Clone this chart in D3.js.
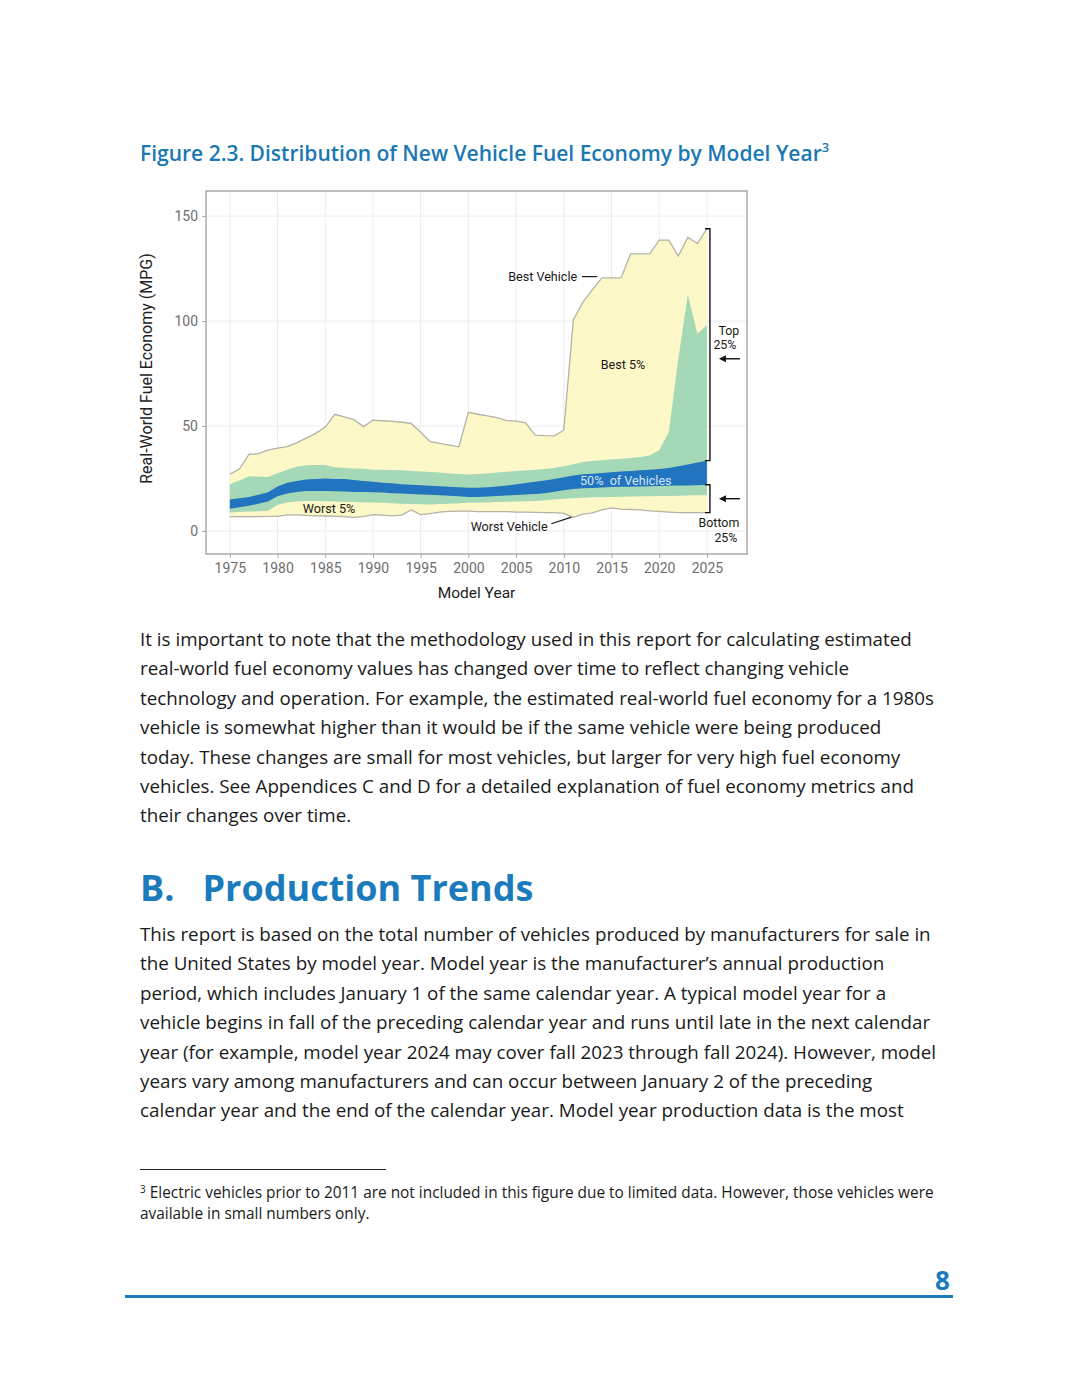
<!DOCTYPE html>
<html>
<head>
<meta charset="utf-8">
<script src="https://cdn.jsdelivr.net/npm/d3@7"></script>
<style>
  body { margin: 0; background: #fff; }
  #page { position: relative; width: 1080px; height: 1387px; font-family: "Open Sans", sans-serif; color: #1a1a1a; }
  .title { position: absolute; left: 140px; top: 138px; font-size: 21px; font-weight: 600; color: #1a78b4; white-space: nowrap; }
  .title sup { font-size: 13px; vertical-align: 9px; }
  .para { position: absolute; left: 140px; font-size: 18.8px; line-height: 29.4px; white-space: nowrap; }
  .heading { position: absolute; left: 140px; top: 863px; font-size: 36px; font-weight: 700; color: #1b7bbc; white-space: nowrap; }
  .fnrule { position: absolute; left: 140px; top: 1169px; width: 246px; height: 1px; background: #222; }
  .footnote { position: absolute; left: 140px; top: 1179px; font-size: 15.4px; line-height: 21px; white-space: nowrap; }
  .footnote sup { font-size: 10px; vertical-align: 5px; }
  .pagenum { position: absolute; left: 935px; top: 1262px; font-size: 26px; font-weight: 700; color: #1b7bbc; }
  .botrule { position: absolute; left: 125px; top: 1295px; width: 828px; height: 3px; background: #1b7bbc; }
  #chart { position: absolute; left: 0; top: 0; }
</style>
</head>
<body>
<div id="page">
  <div class="title">Figure 2.3. Distribution of New Vehicle Fuel Economy by Model Year<sup>3</sup></div>
  <svg id="chart" width="1080" height="620"></svg>
  <div class="para" style="top:625px">It is important to note that the methodology used in this report for calculating estimated<br>real-world fuel economy values has changed over time to reflect changing vehicle<br>technology and operation. For example, the estimated real-world fuel economy for a 1980s<br>vehicle is somewhat higher than it would be if the same vehicle were being produced<br>today. These changes are small for most vehicles, but larger for very high fuel economy<br>vehicles. See Appendices C and D for a detailed explanation of fuel economy metrics and<br>their changes over time.</div>
  <div class="heading">B.&nbsp;&nbsp; Production Trends</div>
  <div class="para" style="top:920px">This report is based on the total number of vehicles produced by manufacturers for sale in<br>the United States by model year. Model year is the manufacturer’s annual production<br>period, which includes January 1 of the same calendar year. A typical model year for a<br>vehicle begins in fall of the preceding calendar year and runs until late in the next calendar<br>year (for example, model year 2024 may cover fall 2023 through fall 2024). However, model<br>years vary among manufacturers and can occur between January 2 of the preceding<br>calendar year and the end of the calendar year. Model year production data is the most</div>
  <div class="fnrule"></div>
  <div class="footnote"><sup>3</sup> Electric vehicles prior to 2011 are not included in this figure due to limited data. However, those vehicles were<br>available in small numbers only.</div>
  <div class="pagenum">8</div>
  <div class="botrule"></div>
</div>
<script>
// Model years and fuel economy distribution (MPG)
const years = [1975,1976,1977,1978,1979,1980,1981,1982,1983,1984,
  1985,1986,1987,1988,1989,1990,1991,1992,1993,1994,
  1995,1996,1997,1998,1999,2000,2001,2002,2003,2004,
  2005,2006,2007,2008,2009,2010,2011,2012,2013,2014,
  2015,2016,2017,2018,2019,2020,2021,2022,2023,2024,2025];

const bestVehicle = [27,29.5,36.5,36.8,38.5,39.5,40.2,42,44.2,46.5,
  49.5,55.6,54.3,53,49.7,52.8,52.5,52.2,51.8,51.2,
  47,42.5,41.7,40.9,40.1,56.5,55.6,54.8,54,52.6,
  52.3,51.5,45.7,45.4,45.3,48,100.5,109,115,120.6,
  120.6,120.6,132,132,132,138.6,138.6,131,140,137,144];

const best5 = [22.2,24,26,25.9,25.7,27.5,29.2,30.6,31.3,31.4,
  31.4,30.4,30,29.8,29.6,29.2,29.1,29,28.9,28.6,
  28.3,28.1,27.8,27.4,27.1,26.9,27.1,27.4,27.8,28.2,
  28.5,28.8,29.2,29.5,30,30.8,31.8,32.8,33.3,33.7,
  34,34.4,34.8,35.2,36,38.5,47,82,112.5,94,98];

const top25 = [15,15.6,16.2,17.2,18.4,21.2,23,23.8,24.5,24.8,
  25,24.8,24.7,24.3,23.8,23.4,23,22.7,22.3,22,
  21.8,21.5,21.3,21,20.8,20.6,20.6,20.8,21.2,21.6,
  22.2,22.8,23.4,24,24.8,25.6,26.4,27,27.3,27.6,
  28,28.3,28.6,28.9,29.2,29.5,30,30.8,31.6,32.6,33.5];

const bottom25 = [10.6,11.3,12,13,14,16.5,17.8,18.5,19,19,
  19,18.9,18.8,18.6,18.5,18.4,18.3,18,17.8,17.6,
  17.4,17.2,17,16.8,16.5,16.2,16.2,16.4,16.6,16.9,
  17.1,17.3,17.6,18,18.7,19.4,20,20.3,20.5,20.7,
  20.9,21,21.1,21.2,21.3,21.4,21.5,21.6,21.7,21.8,22];

const worst5 = [8.8,9,9.2,9.4,9.6,12.5,13.5,14,14.2,14.2,
  14.1,14,13.9,13.8,13.6,13.5,13.4,13.2,13,12.8,
  12.7,12.6,12.8,12.9,13.2,13.4,13.5,13.6,13.8,13.9,
  14,14.1,14.3,14.6,15,15.3,15.6,15.8,16,16.1,
  16.2,16.3,16.4,16.5,16.5,16.6,16.7,16.8,16.9,17,17];

const worstVehicle = [6.8,6.8,6.8,6.8,6.9,6.9,7.6,7.6,7.4,7.2,
  7.1,7,6.8,6.5,6.8,7.8,7.5,7.2,7.5,10,
  7.8,8.2,9,9.3,9.4,9.4,9.2,9.2,9.2,9.2,
  9,9,8.8,8.7,8.7,8.4,6.5,8,8.6,10,
  11,10.4,10.2,10,9.6,9.3,9,8.7,8.7,8.7,8.7];

const xTicks = [1975,1980,1985,1990,1995,2000,2005,2010,2015,2020,2025];
const yTicks = [0,50,100,150];

const data = years.map((yr, i) => ({
  year: yr,
  max: bestVehicle[i], p95: best5[i], p75: top25[i],
  p25: bottom25[i], p5: worst5[i], min: worstVehicle[i],
}));

const margin = { top: 191, left: 206 };
const width = 541;
const height = 363;

const svg = d3.select("#chart");
const g = svg.append("g").attr("transform", `translate(${margin.left},${margin.top})`);

const x = d3.scaleLinear().domain([1972.5, 2029.2]).range([0, width]);
const y = d3.scaleLinear().domain([-11, 162]).range([height, 0]);

// Gridlines
g.selectAll(".vgrid").data(xTicks).enter().append("line")
  .attr("x1", d => x(d)).attr("x2", d => x(d))
  .attr("y1", 0).attr("y2", height)
  .attr("stroke", "#ececec").attr("stroke-width", 1);
g.selectAll(".hgrid").data(yTicks).enter().append("line")
  .attr("x1", 0).attr("x2", width)
  .attr("y1", d => y(d)).attr("y2", d => y(d))
  .attr("stroke", "#ececec").attr("stroke-width", 1);

// Bands
const band = (lo, hi) => d3.area()
  .x(d => x(d.year)).y0(d => y(d[lo])).y1(d => y(d[hi]));

g.append("path").datum(data).attr("fill", "#fcf8c7").attr("d", band("min", "max"));
g.append("path").datum(data).attr("fill", "#a5d8b6").attr("d", band("p5", "p95"));
g.append("path").datum(data).attr("fill", "#2274bf").attr("d", band("p25", "p75"));

const edge = key => d3.line().x(d => x(d.year)).y(d => y(d[key]));
["max", "min"].forEach(k => {
  g.append("path").datum(data)
    .attr("fill", "none").attr("stroke", "#b4b3a6").attr("stroke-width", 1.3)
    .attr("d", edge(k));
});

// Frame
g.append("rect").attr("width", width).attr("height", height)
  .attr("fill", "none").attr("stroke", "#a9a9a9").attr("stroke-width", 1.5);

// Axes
const xAxis = g.append("g").attr("transform", `translate(0,${height})`)
  .call(d3.axisBottom(x).tickValues(xTicks).tickFormat(d3.format("d")).tickSize(4).tickPadding(5));
const yAxis = g.append("g")
  .call(d3.axisLeft(y).tickValues(yTicks).tickSize(4).tickPadding(4));
[xAxis, yAxis].forEach(a => {
  a.select(".domain").remove();
  a.selectAll("line").attr("stroke", "#a9a9a9");
  a.selectAll("text").attr("fill", "#6e6e6e").style("font-family", "Roboto, sans-serif").style("font-size", "14px");
});

g.append("text").attr("x", width / 2).attr("y", height + 44)
  .attr("text-anchor", "middle").attr("fill", "#222")
  .style("font-family", "Roboto, sans-serif").style("font-size", "15.5px")
  .text("Model Year");
g.append("text")
  .attr("transform", `translate(-54,${height / 2 - 4}) rotate(-90)`)
  .attr("text-anchor", "middle").attr("fill", "#222")
  .style("font-family", "Roboto, sans-serif").style("font-size", "16px")
  .text("Real-World Fuel Economy (MPG)");

// Annotations
const label = (txt, yr, mpg, anchor, color) => g.append("text")
  .attr("x", x(yr)).attr("y", y(mpg)).attr("dy", "0.35em")
  .attr("text-anchor", anchor).attr("fill", color || "#1a1a1a")
  .style("font-family", "Roboto, sans-serif").style("font-size", "12.6px")
  .text(txt);

label("Best Vehicle", 2011.4, 121, "end");
g.append("line").attr("x1", x(2011.9)).attr("x2", x(2013.5))
  .attr("y1", y(121.2)).attr("y2", y(121.2)).attr("stroke", "#1a1a1a").attr("stroke-width", 1.2);
label("Best 5%", 2016.2, 79.5, "middle");
label("50%  of Vehicles", 2016.5, 23.8, "middle", "#cfe6f6").attr("xml:space", "preserve");
label("Worst 5%", 1985.4, 10.5, "middle");
label("Worst Vehicle", 2008.3, 2, "end");
g.append("line").attr("x1", x(2008.7)).attr("x2", x(2010.8))
  .attr("y1", y(3.4)).attr("y2", y(6.6)).attr("stroke", "#1a1a1a").attr("stroke-width", 1.2);

// Brackets for top and bottom quartiles at the last model year
const last = data[data.length - 1];
const bx = x(last.year) + 3;
const bracket = (yTop, yBot) => g.append("path")
  .attr("d", `M${bx - 5},${yTop}H${bx}V${yBot}H${bx - 5}`)
  .attr("fill", "none").attr("stroke", "#111").attr("stroke-width", 1.4);
bracket(y(last.max), y(last.p75));
bracket(y(last.p25), y(last.min));

const arrow = yy => {
  g.append("line").attr("x1", bx + 30).attr("x2", bx + 12).attr("y1", yy).attr("y2", yy)
    .attr("stroke", "#111").attr("stroke-width", 1.4);
  g.append("path").attr("d", `M${bx + 9},${yy}l7,-3.5v7z`).attr("fill", "#111");
};
arrow(y(last.max) + 130);
arrow((y(last.p25) + y(last.min)) / 2);

const sideText = (txt, xx, yy) => g.append("text").attr("x", xx).attr("y", yy)
  .attr("text-anchor", "middle").attr("fill", "#1a1a1a")
  .style("font-family", "Roboto, sans-serif").style("font-size", "12.4px").text(txt);
sideText("Top", bx + 19, y(last.max) + 106);
sideText("25%", bx + 15, y(last.max) + 120);
sideText("Bottom", bx + 9, y(last.min) + 14);
sideText("25%", bx + 16, y(last.min) + 29);
</script>
</body>
</html>
